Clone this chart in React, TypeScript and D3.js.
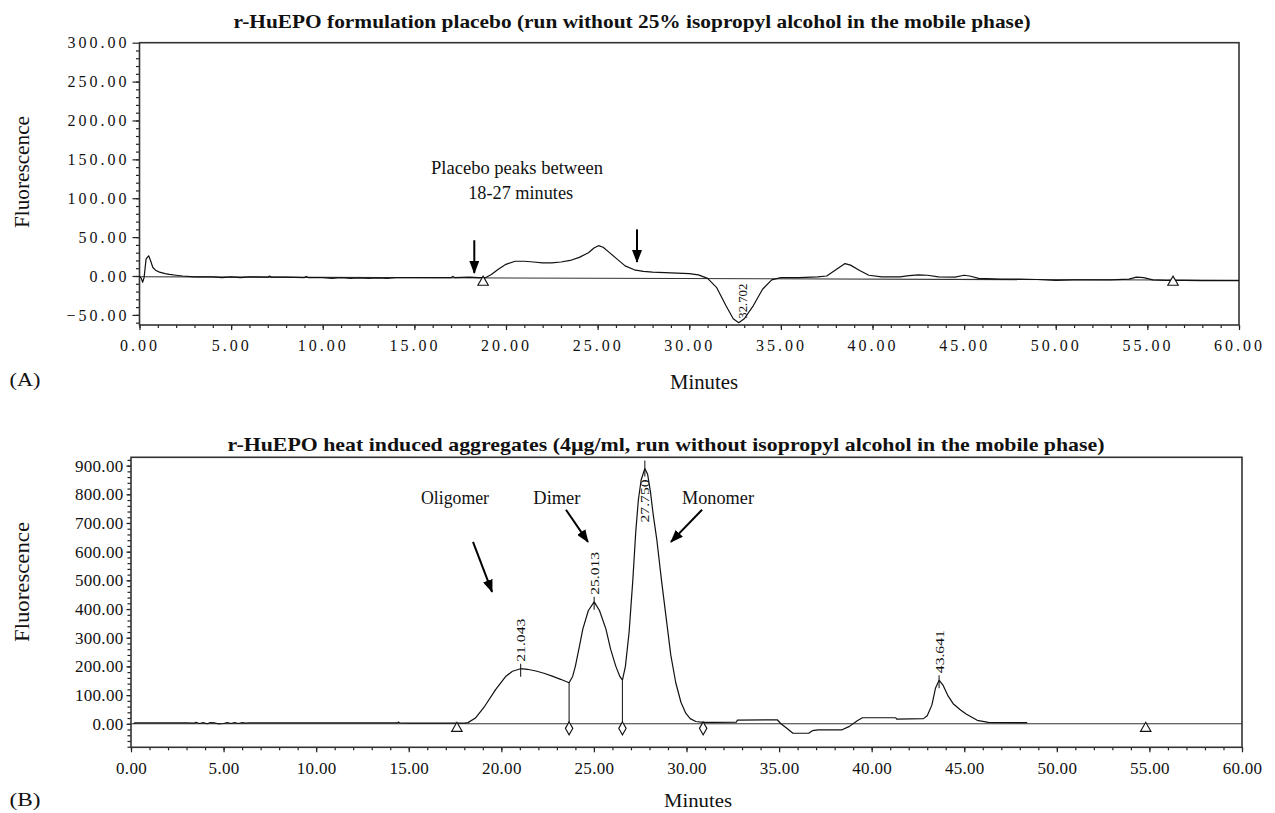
import React, { useRef, useEffect } from 'react';
import * as d3 from 'd3';

// panel A: placebo run (minutes, fluorescence)
const placeboTime = [
  0, 0.1, 0.17, 0.25, 0.36, 0.5, 0.6, 0.73, 0.9, 1.09, 1.4, 1.64, 2.0, 2.36, 3, 4, 4.5, 5, 5.5, 6, 7, 7.1, 7.2, 8,
  9, 9.1, 9.2, 10, 10.5, 11, 11.5, 12, 12.5, 13, 13.5, 14, 15, 16, 17, 17.1, 17.2, 18, 18.5, 18.9, 19.2, 19.6, 20,
  20.5, 21, 21.5, 22, 22.5, 23, 23.5, 24, 24.5, 24.8, 25.05, 25.3, 25.6, 26, 26.5, 27, 27.5, 28, 29, 30, 30.5, 31,
  31.5, 32, 32.4, 32.7, 33, 33.5, 34, 34.5, 35, 36, 37, 37.5, 38, 38.5, 38.8, 39.3, 39.8, 40.5, 41.5, 42, 42.5, 43,
  43.6, 44.5, 45, 45.3, 45.8, 47, 48, 49, 50, 51, 52, 53, 54, 54.4, 54.8, 55.3, 56, 57, 58, 59, 60,
];
const placeboSignal = [
  0, -3, -8, -2, 22, 26, 20, 11, 7, 5, 3, 2, 1, 0, -1, -1, -2, -1, -2, -1, -1.5, 0, -1.5, -1.5,
  -2, -0.5, -2, -2, -3, -2, -3, -2.5, -3, -2.5, -3, -2, -2, -2, -2, -0.5, -2, -1.5, -2, -2, 2, 9, 15,
  19, 19, 18, 17, 17, 18, 20, 24, 30, 36, 39, 37, 31, 23, 13, 8, 6, 5, 4, 3, 1.5, -3,
  -15, -38, -55, -60, -55, -38, -17, -5, -2, -2, -1, 0, 8, 16, 14, 7, 1, -1, -1, 0.5, 1.5, 1,
  -1, -1.5, 1, 0, -3, -4, -4, -4.5, -5.5, -5, -5, -5, -4, -1.5, -2, -5, -5.5, -5.5, -6, -6, -6,
];
const placeboBaseline = [
  [0, -1],
  [60, -5.5],
];
const placeboTriangles = [18.75, 56.4];
const placeboPeaks = [32.702];
const placeboArrows = [
  [18.27, 46, 18.27, 4],
  [27.15, 60, 27.15, 18],
];

// panel B: heat induced aggregates
const aggTime = [
  0.15, 0.2, 1, 2, 3, 3.4, 3.5, 3.7, 3.9, 4.1, 4.3, 4.5, 4.7, 5.0, 5.2, 5.4, 5.6, 5.8, 6.0, 6.2, 6.4, 7, 10, 14, 14.4,
  14.45, 14.5, 15, 17, 18, 18.2, 18.6, 19.1, 19.7, 20.25, 20.6, 21.043, 21.4, 21.87, 22.3, 22.75, 23.2, 23.66, 23.85,
  24.0, 24.2, 24.4, 24.7, 25.013, 25.3, 25.65, 25.9, 26.18, 26.4, 26.54, 26.7, 26.9, 27.1, 27.26, 27.4, 27.55, 27.75,
  27.9, 28.05, 28.2, 28.4, 28.65, 28.9, 29.15, 29.42, 29.7, 29.96, 30.2, 30.5, 30.9, 31.5, 32.7, 32.75, 34.9, 35.1,
  35.4, 35.75, 36.6, 36.8, 37.1, 38.4, 38.8, 39.2, 39.5, 41.3, 41.35, 42.8, 43.0, 43.25, 43.45, 43.641, 43.85, 44.1,
  44.4, 44.8, 45.1, 45.7, 46.3, 48.4,
];
const aggSignal = [
  0, 3, 3, 3, 3, 2, 5, 1, 4, 0, 4, 3, 0, 1, 4, 1, 4, 1, 4, 2, 3, 3, 3, 3, 3,
  6, 3, 2, 2, 2, 4, 20, 61, 120, 166, 183, 192, 190, 184, 176, 166, 155, 143, 165,
  201, 265, 330, 395, 425, 395, 330, 260, 201, 165, 152, 200, 319, 500, 670, 780, 850, 890,
  870, 810, 730, 640, 500, 370, 240, 143, 75, 37, 18, 8, 5, 5, 6, 13, 14, 0,
  -15, -33, -33, -24, -21, -21, -9, 10, 21, 21, 16, 18, 28, 65, 125, 152, 135, 100,
  70, 48, 34, 12, 5, 4,
];
const aggTriangles = [17.6, 54.8];
const aggDiamonds = [23.66, 26.54, 30.9];
const aggDropLines = [23.66, 26.54];
const aggPeaks = [21.043, 25.013, 27.75, 43.641];
const aggNotes = ['Oligomer', 'Dimer', 'Monomer'];
const aggNoteTimes = [17.5, 23.0, 31.7];
const aggArrows = [
  [18.47, 634, 19.5, 460],
  [23.49, 746, 24.68, 634],
  [30.84, 746, 29.16, 634],
];

const topXTicks = d3.range(0, 61, 5);
const topYTicks = [-50, 0, 50, 100, 150, 200, 250, 300];
const botXTicks = d3.range(0, 61, 5);
const botYTicks = [0, 100, 200, 300, 400, 500, 600, 700, 800, 900];

const serif = '"Liberation Serif", "Times New Roman", serif';

const App = () => {
  const svgRef = useRef<SVGSVGElement>(null);

  useEffect(() => {
    const svg = d3.select(svgRef.current);
    svg.selectAll('*').remove();

    svg
      .append('defs')
      .append('marker')
      .attr('id', 'head')
      .attr('markerUnits', 'userSpaceOnUse')
      .attr('markerWidth', 13)
      .attr('markerHeight', 10)
      .attr('refX', 12)
      .attr('refY', 5)
      .attr('orient', 'auto')
      .append('path')
      .attr('d', 'M0,0 L13,5 L0,10 Z')
      .attr('fill', '#000');

    const text = (x: number, y: number, s: string, size: number, len?: number, bold = false) => {
      const t = svg
        .append('text')
        .attr('x', x)
        .attr('y', y)
        .attr('text-anchor', 'middle')
        .attr('dominant-baseline', 'central')
        .attr('font-family', serif)
        .attr('font-size', size)
        .attr('font-weight', bold ? 'bold' : 'normal')
        .attr('fill', '#111')
        .text(s);
      if (len) t.attr('textLength', len).attr('lengthAdjust', 'spacingAndGlyphs');
      return t;
    };

    const rotLabel = (x: number, y: number, s: string, len: number, size = 13) => {
      svg
        .append('text')
        .attr('transform', `translate(${x},${y}) rotate(-90)`)
        .attr('dominant-baseline', 'central')
        .attr('font-family', serif)
        .attr('font-size', size)
        .attr('fill', '#111')
        .attr('textLength', len)
        .attr('lengthAdjust', 'spacingAndGlyphs')
        .text(s);
    };

    const axes = (
      x: d3.ScaleLinear<number, number>,
      y: d3.ScaleLinear<number, number>,
      xTicks: number[],
      yTicks: number[],
      yMinorStep: number,
      opts: { size: number; spacing: number; xPad: number; yPad: number; ySize: number }
    ) => {
      const [x0, x1] = x.range();
      const [yb, yt] = y.range();
      const [dy0, dy1] = y.domain();
      const g = svg.append('g');

      // minor ticks
      g.append('g')
        .attr('transform', `translate(0,${yb})`)
        .call(d3.axisBottom(x).tickValues(d3.range(0, 61, 1)).tickSize(3).tickFormat(() => '').tickSizeOuter(0))
        .call((a) => a.select('.domain').remove());
      g.append('g')
        .attr('transform', `translate(${x0},0)`)
        .call(
          d3
            .axisLeft(y)
            .tickValues(d3.range(Math.ceil(dy0 / yMinorStep) * yMinorStep, dy1, yMinorStep))
            .tickSize(3.5)
            .tickFormat(() => '')
            .tickSizeOuter(0)
        )
        .call((a) => a.select('.domain').remove());

      // major ticks with labels
      g.append('g')
        .attr('transform', `translate(0,${yb})`)
        .call(d3.axisBottom(x).tickValues(xTicks).tickSize(5).tickPadding(opts.xPad).tickFormat(d3.format('.2f')).tickSizeOuter(0))
        .call((a) => a.select('.domain').remove());
      g.append('g')
        .attr('transform', `translate(${x0},0)`)
        .call(d3.axisLeft(y).tickValues(yTicks).tickSize(opts.ySize).tickPadding(opts.yPad).tickFormat(d3.format('.2f')).tickSizeOuter(0))
        .call((a) => a.select('.domain').remove());

      g.selectAll('.tick line').attr('stroke', '#222').attr('stroke-width', 1.2);
      g.selectAll('.tick text')
        .attr('font-family', serif)
        .attr('font-size', opts.size)
        .attr('letter-spacing', opts.spacing)
        .attr('fill', '#111');

      svg
        .append('rect')
        .attr('x', x0)
        .attr('y', yt)
        .attr('width', x1 - x0)
        .attr('height', yb - yt)
        .attr('fill', 'none')
        .attr('stroke', '#333')
        .attr('stroke-width', 1.6);
    };

    const trace = (x: d3.ScaleLinear<number, number>, y: d3.ScaleLinear<number, number>, t: number[], v: number[]) => {
      const l = d3
        .line<number>()
        .x((d) => x(t[d]))
        .y((d) => y(v[d]));
      svg
        .append('path')
        .attr('d', l(d3.range(t.length)))
        .attr('fill', 'none')
        .attr('stroke', '#111')
        .attr('stroke-width', 1.2)
        .attr('stroke-linejoin', 'round');
    };

    const arrow = (x1: number, y1: number, x2: number, y2: number) => {
      svg
        .append('line')
        .attr('x1', x1)
        .attr('y1', y1)
        .attr('x2', x2)
        .attr('y2', y2)
        .attr('stroke', '#000')
        .attr('stroke-width', 2)
        .attr('marker-end', 'url(#head)');
    };

    const tri = d3.symbol(d3.symbolTriangle, 48);
    const dia = d3.symbol(d3.symbolDiamond, 48);
    const marker = (d: string | null, x: number, y: number) => {
      svg
        .append('path')
        .attr('d', d)
        .attr('transform', `translate(${x},${y})`)
        .attr('fill', '#fff')
        .attr('stroke', '#111')
        .attr('stroke-width', 1.1);
    };

    // ---------- panel A ----------
    const xA = d3.scaleLinear().domain([0, 60]).range([139.5, 1239]);
    const yA = d3.scaleLinear().domain([-63, 300]).range([325, 42.7]);

    text(632, 21, 'r-HuEPO formulation placebo (run without 25% isopropyl alcohol in the mobile phase)', 19, 797, true);
    axes(xA, yA, topXTicks, topYTicks, 10, { size: 16, spacing: 3, xPad: 10, yPad: 3, ySize: 7 });

    svg
      .append('line')
      .attr('x1', xA(placeboBaseline[0][0]))
      .attr('y1', yA(placeboBaseline[0][1]))
      .attr('x2', xA(placeboBaseline[1][0]))
      .attr('y2', yA(placeboBaseline[1][1]))
      .attr('stroke', '#333')
      .attr('stroke-width', 1.1);
    trace(xA, yA, placeboTime, placeboSignal);

    placeboTriangles.forEach((m) => marker(tri(), xA(m), yA(-8)));
    placeboPeaks.forEach((p) => {
      const i = d3.minIndex(placeboTime, (t) => Math.abs(t - p));
      rotLabel(xA(p) + 4, yA(placeboSignal[i]) - 4, p.toFixed(3), 35, 12);
    });
    placeboArrows.forEach(([t0, v0, t1, v1]) => arrow(xA(t0), yA(v0), xA(t1), yA(v1)));
    text(xA(20.6), 168, 'Placebo peaks between', 18, 172);
    text(xA(20.8), 193, '18-27 minutes', 18, 105);

    text(22, 172, 'Fluorescence', 20, 112).attr('transform', 'rotate(-90,22,172)');
    text(704, 382, 'Minutes', 20, 68);
    text(25, 379, '(A)', 19, 31);

    // ---------- panel B ----------
    const xB = d3.scaleLinear().domain([0, 60]).range([131, 1242]);
    const yB = d3.scaleLinear().domain([-82, 929]).range([747.3, 457.3]);

    text(666, 444, 'r-HuEPO heat induced aggregates (4µg/ml, run without isopropyl alcohol in the mobile phase)', 19, 877, true);
    axes(xB, yB, botXTicks, botYTicks, 20, { size: 17, spacing: 0.3, xPad: 10, yPad: 3, ySize: 4.5 });

    svg
      .append('line')
      .attr('x1', xB(0))
      .attr('y1', yB(0))
      .attr('x2', xB(60))
      .attr('y2', yB(0))
      .attr('stroke', '#333')
      .attr('stroke-width', 1.1);
    trace(xB, yB, aggTime, aggSignal);

    aggDropLines.forEach((m) => {
      const i = d3.minIndex(aggTime, (t) => Math.abs(t - m));
      svg
        .append('line')
        .attr('x1', xB(m))
        .attr('x2', xB(m))
        .attr('y1', yB(0))
        .attr('y2', yB(aggSignal[i]))
        .attr('stroke', '#222')
        .attr('stroke-width', 1.1);
    });
    aggTriangles.forEach((m) => marker(tri(), xB(m), yB(-16)));
    aggDiamonds.forEach((m) => marker(dia(), xB(m), yB(-16)));
    aggPeaks.forEach((p) => {
      const i = d3.minIndex(aggTime, (t) => Math.abs(t - p));
      const apex = yB(aggSignal[i]);
      const inside = apex < 480;
      svg
        .append('line')
        .attr('x1', xB(p))
        .attr('x2', xB(p))
        .attr('y1', apex + 8)
        .attr('y2', inside ? apex - 8 : apex - 5)
        .attr('stroke', '#222')
        .attr('stroke-width', 1.1);
      rotLabel(xB(p), inside ? apex + 54 : apex - 7, p.toFixed(3), 43);
    });

    aggNotes.forEach((n, i) => text(xB(aggNoteTimes[i]), 498, n, 18, [68, 47, 72][i]));
    aggArrows.forEach(([t0, v0, t1, v1]) => arrow(xB(t0), yB(v0), xB(t1), yB(v1)));

    text(22, 582, 'Fluorescence', 20, 120).attr('transform', 'rotate(-90,22,582)');
    text(698, 800, 'Minutes', 19, 68);
    text(25, 799, '(B)', 19, 31);
  }, []);

  return (
    <svg
      ref={svgRef}
      width={1275}
      height={813}
      style={{ position: 'absolute', left: 0, top: 0, background: '#fff' }}
    />
  );
};

export default App;
